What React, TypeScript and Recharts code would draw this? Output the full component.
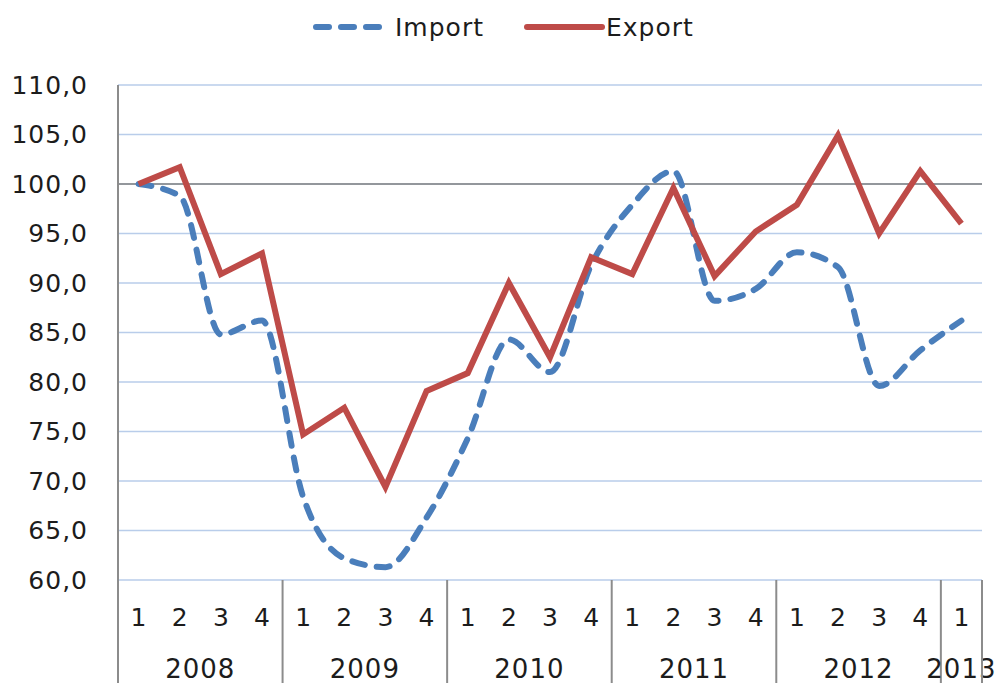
import { LineChart, Line, XAxis, YAxis, CartesianGrid, ReferenceLine } from 'recharts';

const yearLabels = ['2008', '2009', '2010', '2011', '2012', '2013'];
const quartersPerYear = [4, 4, 4, 4, 4, 1];

const importValues = [
  100.0, 98.8, 84.8, 86.2,
  68.4, 62.2, 61.3, 66.3,
  74.3, 84.3, 81.0, 91.8,
  97.9, 101.3, 88.2, 89.4,
  93.1, 91.6, 79.6, 83.2,
  86.2,
];
const exportValues = [
  100.0, 101.7, 90.9, 93.0,
  74.7, 77.4, 69.4, 79.1,
  80.9, 90.0, 82.5, 92.6,
  90.9, 99.6, 90.7, 95.2,
  97.9, 104.9, 95.0, 101.3,
  96.0,
];
const yTicks = [60, 65, 70, 75, 80, 85, 90, 95, 100, 105, 110];

const rows: { key: string; year: string; q: number; n: number; imp: number; exp: number }[] = [];
yearLabels.forEach((year, yi) => {
  for (let q = 1; q <= quartersPerYear[yi]; q++) {
    const i = rows.length;
    rows.push({ key: `${year}-${q}`, year, q, n: quartersPerYear[yi], imp: importValues[i], exp: exportValues[i] });
  }
});

const W = 998;
const H = 683;
const TOP = 85;
const LEFT = 118;
const RIGHT = 16;
const XAXIS_H = 103;
const PLOT_W = W - LEFT - RIGHT;
const PLOT_BOTTOM = H - XAXIS_H;
const BAND = PLOT_W / rows.length;

const FONT = '"DejaVu Sans", Verdana, sans-serif';
const TEXT = '#1c1c1c';
const AXIS = '#8c8c8c';
const BLUE = '#4a7ebb';
const RED = '#be4b48';

const fmt = (v: number) => v.toFixed(1).replace('.', ',');

const QuarterTick = (props: any) => {
  const { x, index } = props;
  const r = rows[index];
  if (!r) return null;
  return (
    <g>
      <text x={x} y={PLOT_BOTTOM + 46} textAnchor="middle" fontSize={25} fill={TEXT} fontFamily={FONT}>
        {r.q}
      </text>
      {r.q === 1 && (
        <>
          <line x1={x - BAND / 2} x2={x - BAND / 2} y1={PLOT_BOTTOM} y2={H} stroke={AXIS} strokeWidth={2} />
          <text
            x={x + ((r.n - 1) / 2) * BAND}
            y={PLOT_BOTTOM + 98}
            textAnchor="middle"
            fontSize={26}
            letterSpacing={1}
            fill={TEXT}
            fontFamily={FONT}
          >
            {r.year}
          </text>
        </>
      )}
      {index === rows.length - 1 && (
        <line x1={x + BAND / 2} x2={x + BAND / 2} y1={PLOT_BOTTOM} y2={H} stroke={AXIS} strokeWidth={2} />
      )}
    </g>
  );
};

function LegendBar() {
  return (
    <svg width={W} height={60} style={{ position: 'absolute', left: 0, top: 0 }}>
      <line x1={316} x2={380} y1={27} y2={27} stroke={BLUE} strokeWidth={6} strokeDasharray="13 12" strokeLinecap="round" />
      <text x={395} y={36} fontSize={25} letterSpacing={1} fill={TEXT} fontFamily={FONT}>Import</text>
      <line x1={527} x2={602} y1={27} y2={27} stroke={RED} strokeWidth={6} strokeLinecap="round" />
      <text x={606} y={36} fontSize={25} letterSpacing={1} fill={TEXT} fontFamily={FONT}>Export</text>
    </svg>
  );
}

export default function App() {
  return (
    <div style={{ position: 'absolute', left: 0, top: 0, width: W, height: H, background: '#fff', fontFamily: FONT }}>
      <LineChart width={W} height={H} data={rows} margin={{ top: TOP, right: RIGHT, bottom: 0, left: 0 }}>
        <CartesianGrid vertical={false} stroke="#b9cdea" strokeWidth={1.5} />
        <XAxis
          dataKey="key"
          scale="band"
          interval={0}
          height={XAXIS_H}
          axisLine={false}
          tickLine={false}
          tick={<QuarterTick />}
        />
        <YAxis
          domain={[60, 110]}
          ticks={yTicks}
          width={LEFT}
          tickFormatter={fmt}
          axisLine={{ stroke: AXIS, strokeWidth: 2 }}
          tickLine={false}
          tickMargin={24}
          tick={{ fontSize: 25, fill: TEXT, fontFamily: FONT, letterSpacing: 1 }}
        />
        <ReferenceLine y={100} stroke="#808080" strokeWidth={1.5} />
        <Line
          type="monotone"
          dataKey="imp"
          name="Import"
          stroke={BLUE}
          strokeWidth={6}
          strokeDasharray="13 12"
          strokeLinecap="round"
          dot={false}
          isAnimationActive={false}
        />
        <Line
          type="linear"
          dataKey="exp"
          name="Export"
          stroke={RED}
          strokeWidth={6}
          dot={false}
          isAnimationActive={false}
        />
      </LineChart>
      <LegendBar />
    </div>
  );
}
